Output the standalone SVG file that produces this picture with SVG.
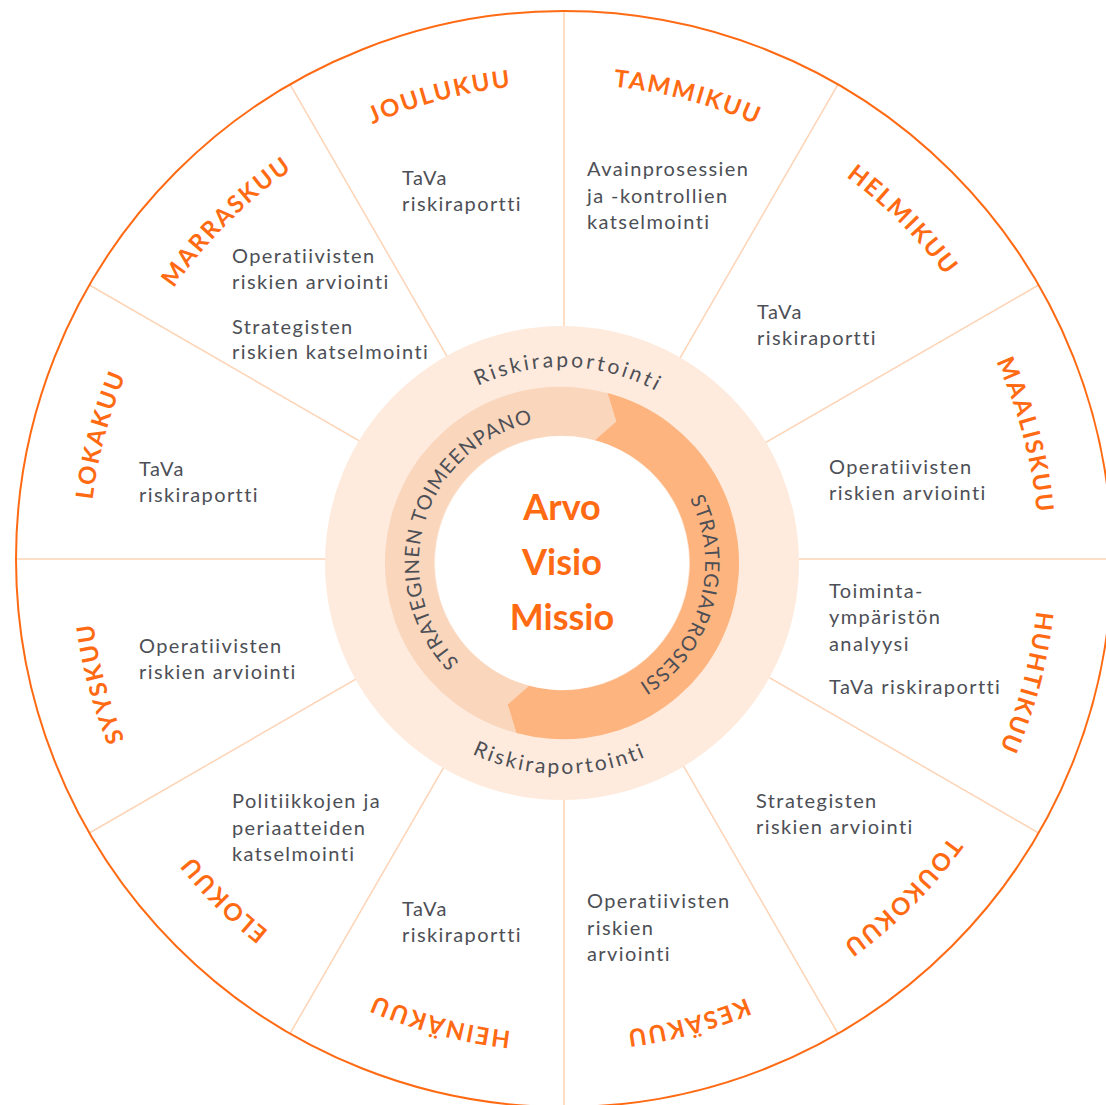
<svg xmlns="http://www.w3.org/2000/svg" width="1106" height="1105" viewBox="0 0 1106 1105">
<defs>
<style>
text{font-family:Lato,"Noto Sans","Liberation Sans",sans-serif}
.month{font-weight:700;font-size:24px;fill:#FF6A13;letter-spacing:2px}
.body{font-size:20px;fill:#4D4F56;letter-spacing:1.4px}
.ringtxt{font-size:20px;fill:#4D4F56;letter-spacing:1px}
.risk{font-size:21px;fill:#4D4F56;letter-spacing:2.9px}
.core{font-size:36px;font-weight:700;fill:#FF6A13;text-anchor:middle}
.spoke{stroke:#FDD4B6;stroke-width:1.5;fill:none}
</style>
<path id="monthPath" d="M 564 1034 A 475 475 0 1 1 564 84 A 475 475 0 1 1 564 1034"/>
<path id="innerPath" d="M 562 706 A 143 143 0 1 1 562 420 A 143 143 0 1 1 562 706"/>
<path id="riskTop" d="M 562 759 A 196 196 0 1 1 562 367 A 196 196 0 1 1 562 759"/>
<path id="riskBot" d="M 562 352 A 211 211 0 1 0 562 774 A 211 211 0 1 0 562 352"/>
</defs>
<rect width="1106" height="1105" fill="#FFFFFF"/>
<g id="dividers">
<line class="spoke" x1="564" y1="11" x2="564" y2="1107"/>
<line class="spoke" x1="838" y1="84.4" x2="290" y2="1033.6"/>
<line class="spoke" x1="1038.6" y1="285" x2="89.4" y2="833"/>
<line class="spoke" x1="1112" y1="559" x2="16" y2="559"/>
<line class="spoke" x1="1038.6" y1="833" x2="89.4" y2="285"/>
<line class="spoke" x1="838" y1="1033.6" x2="290" y2="84.4"/>
</g>
<circle id="outer-ring" cx="564" cy="559" r="548" fill="none" stroke="#FF6A13" stroke-width="2"/>
<g id="core">
<circle cx="562" cy="563" r="237" fill="#FEEBDD"/>
<path id="strategic-implementation" d="M 516.45 733 A 176 176 0 1 1 607.55 393 L 616.29 421.56 L 594.87 440.33 A 127 127 0 1 0 529.13 685.67 L 507.71 704.44 Z" fill="#F9D6BC"/>
<path id="strategy-process" d="M 607.55 393 A 176 176 0 1 1 516.45 733 L 507.71 704.44 L 529.13 685.67 A 127 127 0 1 0 594.87 440.33 L 616.29 421.56 Z" fill="#FDB47F"/>
<circle cx="562" cy="563" r="127" fill="#FFFFFF"/>
<text class="risk"><textPath href="#riskTop" startOffset="50.54%" text-anchor="middle">Riskiraportointi</textPath></text>
<text class="risk" style="letter-spacing:2.5px"><textPath href="#riskBot" startOffset="49.8%" text-anchor="middle">Riskiraportointi</textPath></text>
<text class="ringtxt"><textPath href="#innerPath" startOffset="29.78%" text-anchor="middle">STRATEGINEN TOIMEENPANO</textPath></text>
<text class="ringtxt"><textPath href="#innerPath" startOffset="79.31%" text-anchor="middle">STRATEGIAPROSESSI</textPath></text>
<text class="core" x="562" y="520">Arvo</text>
<text class="core" x="562" y="575">Visio</text>
<text class="core" x="562" y="630">Missio</text>
</g>
<g id="tammikuu">
<text class="month"><textPath href="#monthPath" startOffset="54.167%" text-anchor="middle">TAMMIKUU</textPath></text>
<text class="body" x="587" y="176">Avainprosessien</text>
<text class="body" x="587" y="203">ja -kontrollien</text>
<text class="body" x="587" y="229">katselmointi</text>
</g>
<g id="helmikuu">
<text class="month"><textPath href="#monthPath" startOffset="62.5%" text-anchor="middle">HELMIKUU</textPath></text>
<text class="body" x="757" y="319">TaVa</text>
<text class="body" x="757" y="345">riskiraportti</text>
</g>
<g id="maaliskuu">
<text class="month"><textPath href="#monthPath" startOffset="70.833%" text-anchor="middle">MAALISKUU</textPath></text>
<text class="body" x="829" y="474">Operatiivisten</text>
<text class="body" x="829" y="500">riskien arviointi</text>
</g>
<g id="huhtikuu">
<text class="month"><textPath href="#monthPath" startOffset="79.167%" text-anchor="middle">HUHTIKUU</textPath></text>
<text class="body" x="829" y="598">Toiminta-</text>
<text class="body" x="829" y="624">ympäristön</text>
<text class="body" x="829" y="651">analyysi</text>
<text class="body" x="829" y="694">TaVa riskiraportti</text>
</g>
<g id="toukokuu">
<text class="month"><textPath href="#monthPath" startOffset="87.5%" text-anchor="middle">TOUKOKUU</textPath></text>
<text class="body" x="756" y="808">Strategisten</text>
<text class="body" x="756" y="834">riskien arviointi</text>
</g>
<g id="kesakuu">
<text class="month"><textPath href="#monthPath" startOffset="95.833%" text-anchor="middle">KESÄKUU</textPath></text>
<text class="body" x="587" y="908">Operatiivisten</text>
<text class="body" x="587" y="935">riskien</text>
<text class="body" x="587" y="961">arviointi</text>
</g>
<g id="heinakuu">
<text class="month"><textPath href="#monthPath" startOffset="4.167%" text-anchor="middle">HEINÄKUU</textPath></text>
<text class="body" x="402" y="916">TaVa</text>
<text class="body" x="402" y="942">riskiraportti</text>
</g>
<g id="elokuu">
<text class="month"><textPath href="#monthPath" startOffset="12.5%" text-anchor="middle">ELOKUU</textPath></text>
<text class="body" x="232" y="808">Politiikkojen ja</text>
<text class="body" x="232" y="835">periaatteiden</text>
<text class="body" x="232" y="861">katselmointi</text>
</g>
<g id="syyskuu">
<text class="month"><textPath href="#monthPath" startOffset="20.833%" text-anchor="middle">SYYSKUU</textPath></text>
<text class="body" x="139" y="653">Operatiivisten</text>
<text class="body" x="139" y="679">riskien arviointi</text>
</g>
<g id="lokakuu">
<text class="month"><textPath href="#monthPath" startOffset="29.167%" text-anchor="middle">LOKAKUU</textPath></text>
<text class="body" x="139" y="476">TaVa</text>
<text class="body" x="139" y="502">riskiraportti</text>
</g>
<g id="marraskuu">
<text class="month"><textPath href="#monthPath" startOffset="37.5%" text-anchor="middle">MARRASKUU</textPath></text>
<text class="body" x="232" y="263">Operatiivisten</text>
<text class="body" x="232" y="289">riskien arviointi</text>
<text class="body" x="232" y="334">Strategisten</text>
<text class="body" x="232" y="359">riskien katselmointi</text>
</g>
<g id="joulukuu">
<text class="month"><textPath href="#monthPath" startOffset="45.833%" text-anchor="middle">JOULUKUU</textPath></text>
<text class="body" x="402" y="185">TaVa</text>
<text class="body" x="402" y="211">riskiraportti</text>
</g>
</svg>
